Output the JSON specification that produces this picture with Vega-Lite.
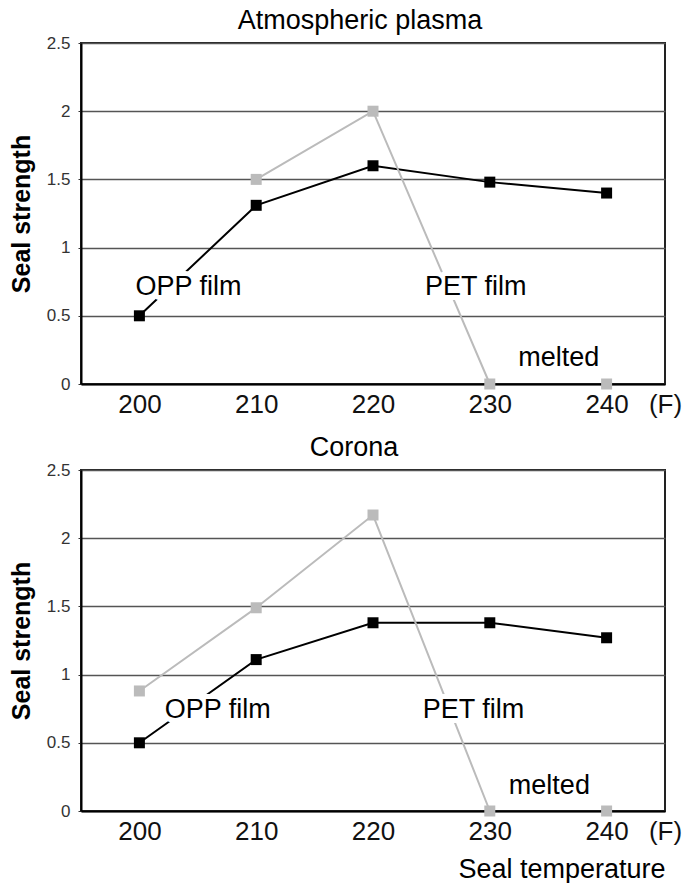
{
  "$schema": "https://vega.github.io/schema/vega-lite/v6.json",
  "padding": {"left": 8, "top": 6, "right": 0, "bottom": 0},
  "spacing": 15,
  "datasets": {
    "plasma": [
      {"temp": 200, "strength": 0.5, "film": "OPP film"},
      {"temp": 210, "strength": 1.31, "film": "OPP film"},
      {"temp": 220, "strength": 1.6, "film": "OPP film"},
      {"temp": 230, "strength": 1.48, "film": "OPP film"},
      {"temp": 240, "strength": 1.4, "film": "OPP film"},
      {"temp": 210, "strength": 1.5, "film": "PET film"},
      {"temp": 220, "strength": 2.0, "film": "PET film"},
      {"temp": 230, "strength": 0, "film": "PET film"},
      {"temp": 240, "strength": 0, "film": "PET film"}
    ],
    "plasmaLabels": [
      {"temp": 204.2, "strength": 0.65, "label": "OPP film"},
      {"temp": 228.8, "strength": 0.65, "label": "PET film"},
      {"temp": 235.9, "strength": 0.13, "label": "melted"}
    ],
    "corona": [
      {"temp": 200, "strength": 0.5, "film": "OPP film"},
      {"temp": 210, "strength": 1.11, "film": "OPP film"},
      {"temp": 220, "strength": 1.38, "film": "OPP film"},
      {"temp": 230, "strength": 1.38, "film": "OPP film"},
      {"temp": 240, "strength": 1.27, "film": "OPP film"},
      {"temp": 200, "strength": 0.88, "film": "PET film"},
      {"temp": 210, "strength": 1.49, "film": "PET film"},
      {"temp": 220, "strength": 2.17, "film": "PET film"},
      {"temp": 230, "strength": 0, "film": "PET film"},
      {"temp": 240, "strength": 0, "film": "PET film"}
    ],
    "coronaLabels": [
      {"temp": 206.7, "strength": 0.685, "label": "OPP film"},
      {"temp": 228.6, "strength": 0.685, "label": "PET film"},
      {"temp": 235.1, "strength": 0.127, "label": "melted"}
    ]
  },
  "vconcat": [
    {
      "width": 584,
      "height": 341,
      "title": {"text": "Atmospheric plasma", "dx": -13},
      "encoding": {
        "x": {
          "field": "temp", "type": "quantitative",
          "scale": {"domain": [195, 245], "nice": false, "zero": false},
          "axis": {
            "values": [200, 210, 220, 230, 240, 245],
            "labelExpr": "datum.value > 241 ? '(F)' : datum.label",
            "title": null, "ticks": false, "grid": false,
            "labelFontSize": 26, "labelColor": "#111", "labelPadding": 7,
            "labelFlush": false, "labelOverlap": false,
            "domainColor": "#000", "domainWidth": 2
          }
        },
        "y": {
          "field": "strength", "type": "quantitative",
          "scale": {"domain": [0, 2.5], "nice": false},
          "axis": {
            "values": [0, 0.5, 1, 1.5, 2, 2.5], "format": "~g",
            "title": "Seal strength", "titleFontSize": 25, "titleFontWeight": "bold",
            "titleColor": "#000", "titleX": -52, "titleBaseline": "alphabetic",
            "labelFontSize": 17, "labelColor": "#333", "tickSize": 3, "tickColor": "#333",
            "labelPadding": 8, "domainColor": "#000", "domainWidth": 2,
            "grid": true, "gridColor": "#555", "gridWidth": 1.5
          }
        }
      },
      "layer": [
        {
          "data": {"name": "plasma"},
          "transform": [{"filter": "datum.film == 'OPP film' || datum.temp <= 230"}],
          "mark": {"type": "line", "strokeWidth": 2},
          "encoding": {
            "color": {"field": "film", "type": "nominal", "scale": {"domain": ["OPP film", "PET film"], "range": ["#000000", "#bbbbbb"]}, "legend": null}
          }
        },
        {
          "data": {"name": "plasmaLabels"},
          "mark": {"type": "text", "fontSize": 27, "baseline": "alphabetic", "stroke": "white", "strokeWidth": 10, "strokeJoin": "round", "fill": "white"},
          "encoding": {"text": {"field": "label"}}
        },
        {
          "data": {"name": "plasmaLabels"},
          "mark": {"type": "text", "fontSize": 27, "baseline": "alphabetic", "color": "#000"},
          "encoding": {"text": {"field": "label"}}
        },
        {
          "data": {"name": "plasma"},
          "mark": {"type": "point", "shape": "square", "filled": true, "size": 121, "opacity": 1},
          "encoding": {
            "color": {"field": "film", "type": "nominal", "scale": {"domain": ["OPP film", "PET film"], "range": ["#000000", "#bbbbbb"]}, "legend": null}
          }
        }
      ]
    },
    {
      "width": 584,
      "height": 341,
      "title": {"text": "Corona", "dx": -19},
      "encoding": {
        "x": {
          "field": "temp", "type": "quantitative",
          "scale": {"domain": [195, 245], "nice": false, "zero": false},
          "axis": {
            "values": [200, 210, 220, 230, 240, 245],
            "labelExpr": "datum.value > 241 ? '(F)' : datum.label",
            "title": "Seal temperature", "titleFontSize": 27, "titleFontWeight": "normal",
            "titleColor": "#000", "titleAnchor": "end", "titlePadding": 12,
            "ticks": false, "grid": false,
            "labelFontSize": 26, "labelColor": "#111", "labelPadding": 7,
            "labelFlush": false, "labelOverlap": false,
            "domainColor": "#000", "domainWidth": 2
          }
        },
        "y": {
          "field": "strength", "type": "quantitative",
          "scale": {"domain": [0, 2.5], "nice": false},
          "axis": {
            "values": [0, 0.5, 1, 1.5, 2, 2.5], "format": "~g",
            "title": "Seal strength", "titleFontSize": 25, "titleFontWeight": "bold",
            "titleColor": "#000", "titleX": -52, "titleBaseline": "alphabetic",
            "labelFontSize": 17, "labelColor": "#333", "tickSize": 3, "tickColor": "#333",
            "labelPadding": 8, "domainColor": "#000", "domainWidth": 2,
            "grid": true, "gridColor": "#555", "gridWidth": 1.5
          }
        }
      },
      "layer": [
        {
          "data": {"name": "corona"},
          "transform": [{"filter": "datum.film == 'OPP film' || datum.temp <= 230"}],
          "mark": {"type": "line", "strokeWidth": 2},
          "encoding": {
            "color": {"field": "film", "type": "nominal", "scale": {"domain": ["OPP film", "PET film"], "range": ["#000000", "#bbbbbb"]}, "legend": null}
          }
        },
        {
          "data": {"name": "coronaLabels"},
          "mark": {"type": "text", "fontSize": 27, "baseline": "alphabetic", "stroke": "white", "strokeWidth": 10, "strokeJoin": "round", "fill": "white"},
          "encoding": {"text": {"field": "label"}}
        },
        {
          "data": {"name": "coronaLabels"},
          "mark": {"type": "text", "fontSize": 27, "baseline": "alphabetic", "color": "#000"},
          "encoding": {"text": {"field": "label"}}
        },
        {
          "data": {"name": "corona"},
          "mark": {"type": "point", "shape": "square", "filled": true, "size": 121, "opacity": 1},
          "encoding": {
            "color": {"field": "film", "type": "nominal", "scale": {"domain": ["OPP film", "PET film"], "range": ["#000000", "#bbbbbb"]}, "legend": null}
          }
        }
      ]
    }
  ],
  "config": {
    "font": "Liberation Sans",
    "view": {"stroke": "#222", "strokeWidth": 2},
    "axis": {"labelFont": "Liberation Sans", "titleFont": "Liberation Sans"},
    "title": {"font": "Liberation Sans", "fontSize": 27, "fontWeight": "normal", "color": "#000", "baseline": "alphabetic", "offset": -1, "frame": "group"},
    "text": {"font": "Liberation Sans"}
  }
}
